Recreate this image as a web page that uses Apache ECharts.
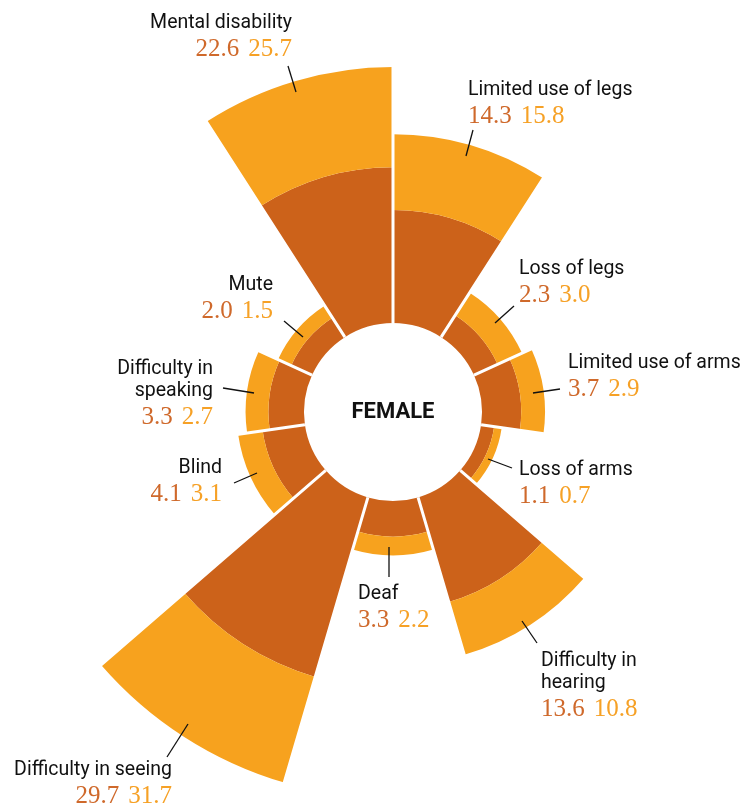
<!DOCTYPE html>
<html>
<head>
<meta charset="utf-8">
<title>Female disability by type</title>
<script src="https://cdn.jsdelivr.net/npm/echarts@6/dist/echarts.min.js"></script>
<style>
  html, body { margin: 0; padding: 0; background: #ffffff; }
  #chart { width: 741px; height: 805px; }
</style>
</head>
<body>
<div id="chart"></div>
<script>
// Categories, clockwise from 12 o'clock
const categories = [
  'Limited use of legs', 'Loss of legs', 'Limited use of arms', 'Loss of arms',
  'Difficulty in\nhearing', 'Deaf', 'Difficulty in seeing', 'Blind',
  'Difficulty in\nspeaking', 'Mute', 'Mental disability'
];
// First value (dark) and second value (light), stacked outward
const valuesDark  = [14.3, 2.3, 3.7, 1.1, 13.6, 3.3, 29.7, 4.1, 3.3, 2.0, 22.6];
const valuesLight = [15.8, 3.0, 2.9, 0.7, 10.8, 2.2, 31.7, 3.1, 2.7, 1.5, 25.7];

// Label placement for each category (same order as categories)
const labelLayout = [
  { x: 468, y: 90,  align: 'left',  line: [473, 130, 466, 156] },
  { x: 519, y: 269, align: 'left',  line: [514, 306, 495, 323] },
  { x: 568, y: 363, align: 'left',  line: [560, 389, 533, 393] },
  { x: 519, y: 470, align: 'left',  line: [512, 468, 488, 459] },
  { x: 541, y: 661, align: 'left',  line: [522, 621, 537, 643] },
  { x: 358, y: 594, align: 'left',  line: [389, 547, 389, 577] },
  { x: 172, y: 770, align: 'right', line: [188, 724, 167, 757] },
  { x: 222, y: 468, align: 'right', line: [234, 483, 257, 473] },
  { x: 213, y: 369, align: 'right', line: [223, 388, 254, 393] },
  { x: 273, y: 285, align: 'right', line: [284, 321, 303, 337] },
  { x: 292, y: 23,  align: 'right', line: [288, 66, 296, 92] }
];

const COLOR_DARK = '#cc621a';
const COLOR_LIGHT = '#f7a21e';
const TEXT_DARK = '#cf692b';
const TEXT_LIGHT = '#f6a126';

// Area-proportional radial scale: ring area grows linearly with the value
const INNER = 89;
const OUTER = 392;
const AREA_K = 2300;
function radial(v) {
  return Math.sqrt(INNER * INNER + AREA_K * v) - INNER;
}

const darkSeries = valuesDark.map(v => radial(v));
const lightSeries = valuesLight.map((v, i) => radial(valuesDark[i] + v) - radial(valuesDark[i]));

const fmt = v => v.toFixed(1);
const graphics = [];
const LINE_GAP = 22;
categories.forEach((name, i) => {
  const L = labelLayout[i];
  const extraLines = name.split('\n').length - 1;
  graphics.push({
    type: 'text', z: 100,
    // first line centred on L.y, further lines below it
    x: L.x, y: L.y + extraLines * LINE_GAP / 2,
    style: {
      text: name,
      font: '400 19.5px Roboto',
      fill: '#111111',
      align: L.align,
      verticalAlign: 'middle',
      lineHeight: LINE_GAP
    }
  });
  graphics.push({
    type: 'text', z: 100,
    x: L.x, y: L.y + extraLines * LINE_GAP + 26,
    style: {
      text: '{a|' + fmt(valuesDark[i]) + '}{b|' + fmt(valuesLight[i]) + '}',
      align: L.align,
      verticalAlign: 'middle',
      rich: {
        a: { font: '400 25px "Liberation Serif"', fill: TEXT_DARK, padding: [0, 9, 0, 0] },
        b: { font: '400 25px "Liberation Serif"', fill: TEXT_LIGHT }
      }
    }
  });
  graphics.push({
    type: 'line', z: 100,
    shape: { x1: L.line[0], y1: L.line[1], x2: L.line[2], y2: L.line[3] },
    style: { stroke: '#111111', lineWidth: 1.3 }
  });
});
graphics.push({
  type: 'text', z: 100, x: 393, y: 412,
  style: {
    text: 'FEMALE', font: '700 22px Roboto', fill: '#111111',
    align: 'center', verticalAlign: 'middle'
  }
});

const chart = echarts.init(document.getElementById('chart'), null, { renderer: 'canvas' });
chart.setOption({
  backgroundColor: '#ffffff',
  animation: false,
  polar: { center: [393, 412], radius: [INNER, OUTER] },
  angleAxis: {
    type: 'category',
    data: categories,
    startAngle: 90,
    clockwise: true,
    z: 10,
    axisLine: { show: false },
    axisTick: { show: false },
    axisLabel: { show: false },
    splitLine: { show: true, lineStyle: { color: '#ffffff', width: 3 } }
  },
  radiusAxis: {
    type: 'value',
    min: 0,
    max: OUTER - INNER,
    axisLine: { show: false },
    axisTick: { show: false },
    axisLabel: { show: false },
    splitLine: { show: false }
  },
  series: [
    {
      type: 'bar', coordinateSystem: 'polar', stack: 'total',
      data: darkSeries, barCategoryGap: '0%',
      itemStyle: { color: COLOR_DARK }
    },
    {
      type: 'bar', coordinateSystem: 'polar', stack: 'total',
      data: lightSeries, barCategoryGap: '0%',
      itemStyle: { color: COLOR_LIGHT }
    }
  ],
  graphic: graphics
});
</script>
</body>
</html>
